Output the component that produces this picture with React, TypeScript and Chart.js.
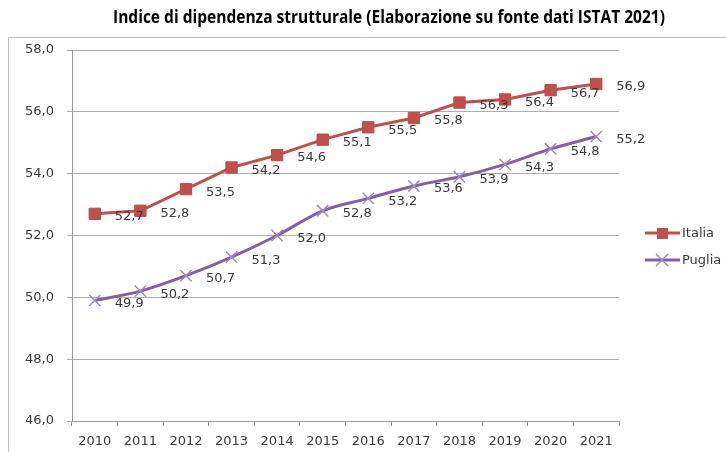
import { useEffect, useRef } from "react";
import { Chart, registerables } from "chart.js";

Chart.register(...registerables);

const titleText = "Indice di dipendenza strutturale (Elaborazione su fonte dati ISTAT 2021)";
const years = ["2010", "2011", "2012", "2013", "2014", "2015", "2016", "2017", "2018", "2019", "2020", "2021"];
const italia = [52.7, 52.8, 53.5, 54.2, 54.6, 55.1, 55.5, 55.8, 56.3, 56.4, 56.7, 56.9];
const puglia = [49.9, 50.2, 50.7, 51.3, 52.0, 52.8, 53.2, 53.6, 53.9, 54.3, 54.8, 55.2];
const seriesNames = ["Italia", "Puglia"];
const yMin = 46;
const yMax = 58;
const yStep = 2;

const FONT = "'DejaVu Sans', Verdana, sans-serif";
const RED = "#C0504D";
const PURPLE = "#7F62A6";
const PURPLE_MARK = "#9E8BC6";

const fmt = (v: number) => v.toFixed(1).replace(".", ",");

const decor = {
  id: "decor",
  beforeDraw(chart: any) {
    const ctx = chart.ctx;
    ctx.save();
    ctx.fillStyle = "#ffffff";
    ctx.fillRect(0, 0, chart.width, chart.height);
    ctx.strokeStyle = "#bdbdbd";
    ctx.lineWidth = 1;
    ctx.beginPath();
    ctx.moveTo(8.5, chart.height);
    ctx.lineTo(8.5, 37.5);
    ctx.lineTo(chart.width, 37.5);
    ctx.stroke();
    ctx.restore();
  },
  afterDatasetsDraw(chart: any) {
    const ctx = chart.ctx;
    ctx.save();
    ctx.font = `13px ${FONT}`;
    ctx.fillStyle = "#3a3a3a";
    ctx.textAlign = "left";
    ctx.textBaseline = "middle";
    chart.data.datasets.forEach((ds: any, i: number) => {
      const meta = chart.getDatasetMeta(i);
      meta.data.forEach((pt: any, j: number) => {
        ctx.fillText(fmt(ds.data[j]), pt.x + 20, pt.y + 3);
      });
    });
    ctx.restore();
  },
  afterDraw(chart: any) {
    const ctx = chart.ctx;
    ctx.save();
    // title
    ctx.font = `bold 18px 'Open Sans', sans-serif`;
    ctx.fillStyle = "#000000";
    ctx.textAlign = "center";
    ctx.textBaseline = "middle";
    ctx.fillText(titleText, 389, 18, 552);
    // legend
    const rows = [233, 260];
    chart.data.datasets.forEach((ds: any, i: number) => {
      const y = rows[i];
      ctx.strokeStyle = ds.borderColor;
      ctx.lineWidth = 3;
      ctx.beginPath();
      ctx.moveTo(645, y);
      ctx.lineTo(680, y);
      ctx.stroke();
      if (i === 0) {
        ctx.fillStyle = RED;
        ctx.fillRect(657, y - 5, 11, 11);
      } else {
        ctx.strokeStyle = PURPLE_MARK;
        ctx.lineWidth = 1.5;
        ctx.beginPath();
        ctx.moveTo(656, y - 6);
        ctx.lineTo(668, y + 6);
        ctx.moveTo(668, y - 6);
        ctx.lineTo(656, y + 6);
        ctx.stroke();
      }
      ctx.font = `13px ${FONT}`;
      ctx.fillStyle = "#3a3a3a";
      ctx.textAlign = "left";
      ctx.textBaseline = "middle";
      ctx.fillText(ds.label, 682, y + 1);
    });
    ctx.restore();
  },
};

export default function App() {
  const ref = useRef<HTMLCanvasElement | null>(null);

  useEffect(() => {
    if (!ref.current) return;
    const chart = new Chart(ref.current, {
      type: "line",
      data: {
        labels: years,
        datasets: [
          {
            label: seriesNames[0],
            data: italia,
            borderColor: RED,
            backgroundColor: RED,
            borderWidth: 3,
            pointStyle: "rect",
            pointRadius: 8,
            pointBorderWidth: 1,
            pointBorderColor: "#b94a47",
            pointBackgroundColor: RED,
            tension: 0,
          },
          {
            label: seriesNames[1],
            data: puglia,
            borderColor: PURPLE,
            backgroundColor: PURPLE,
            borderWidth: 3,
            pointStyle: "crossRot",
            pointRadius: 8,
            pointBorderWidth: 1.5,
            pointBorderColor: PURPLE_MARK,
            tension: 0.35,
          },
        ],
      },
      options: {
        responsive: false,
        animation: false,
        layout: { padding: { left: 0, top: 50, right: 107, bottom: 0 } },
        plugins: {
          legend: { display: false },
          title: { display: false },
          tooltip: { enabled: false },
        },
        scales: {
          x: {
            offset: true,
            grid: {
              display: true,
              offset: true,
              drawOnChartArea: false,
              drawTicks: true,
              tickLength: 5,
              color: "#999999",
            },
            border: { display: true, color: "#999999", width: 1 },
            ticks: {
              font: { family: FONT, size: 13 },
              color: "#3a3a3a",
              padding: 8,
              maxRotation: 0,
              autoSkip: false,
            },
            afterFit(scale: any) {
              scale.height = 31;
            },
          },
          y: {
            min: yMin,
            max: yMax,
            grid: {
              color: "#adadad",
              tickLength: 5,
            },
            border: { display: true, color: "#999999", width: 1 },
            ticks: {
              stepSize: yStep,
              font: { family: FONT, size: 13 },
              color: "#3a3a3a",
              padding: 13,
              callback: (v: any) => fmt(Number(v)),
            },
            afterFit(scale: any) {
              scale.width = 72;
            },
          },
        },
      },
      plugins: [decor],
    });
    return () => chart.destroy();
  }, []);

  return (
    <div style={{ position: "absolute", left: 0, top: 0, width: 726, height: 452 }}>
      <canvas ref={ref} width={726} height={452} style={{ width: 726, height: 452, display: "block" }} />
    </div>
  );
}
